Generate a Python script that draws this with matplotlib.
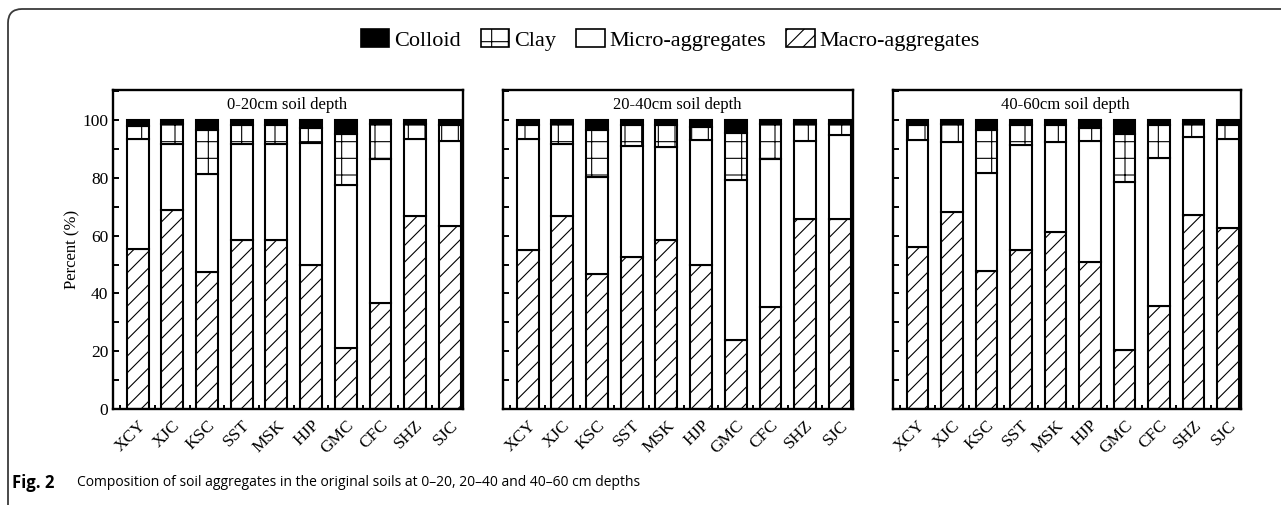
import matplotlib
matplotlib.use("Agg")
import matplotlib.pyplot as plt
from matplotlib.patches import Patch, PathPatch
from matplotlib.path import Path
from matplotlib.ticker import MultipleLocator, FixedLocator

# ---------------- data ----------------
soils = ["XCY", "XJC", "KSC", "SST", "MSK", "HJP", "GMC", "CFC", "SHZ", "SJC"]
depths = ["0-20cm soil depth", "20-40cm soil depth", "40-60cm soil depth"]

# Percent of each fraction (bottom to top): macro, micro, clay, colloid
macro_0_20 = [55.5, 69.0, 47.3, 58.5, 58.5, 50.0, 21.0, 36.8, 66.8, 63.3]
micro_0_20 = [37.8, 22.6, 34.0, 33.1, 33.1, 42.2, 56.5, 49.7, 26.5, 29.5]
clay_0_20 = [4.7, 6.9, 15.1, 6.6, 6.6, 5.2, 17.5, 12.0, 5.3, 5.4]
colloid_0_20 = [2.0, 1.5, 3.6, 1.8, 1.8, 2.6, 5.0, 1.5, 1.4, 1.8]

macro_20_40 = [55.0, 66.9, 46.6, 52.5, 58.5, 49.9, 24.0, 35.3, 65.7, 65.7]
micro_20_40 = [38.3, 24.9, 33.7, 38.6, 32.3, 43.1, 55.2, 51.2, 27.1, 29.1]
clay_20_40 = [4.9, 6.7, 16.3, 7.1, 7.4, 4.6, 16.3, 12.0, 5.7, 3.7]
colloid_20_40 = [1.8, 1.5, 3.4, 1.8, 1.8, 2.4, 4.5, 1.5, 1.5, 1.5]

macro_40_60 = [56.0, 68.3, 47.9, 55.2, 61.4, 50.8, 20.3, 35.6, 67.0, 62.5]
micro_40_60 = [37.0, 24.2, 33.7, 36.2, 31.0, 42.0, 58.1, 51.4, 27.0, 31.0]
clay_40_60 = [5.2, 6.0, 14.9, 6.8, 5.8, 4.6, 16.6, 11.2, 4.5, 4.8]
colloid_40_60 = [1.8, 1.5, 3.5, 1.8, 1.8, 2.6, 5.0, 1.8, 1.5, 1.7]

legend_labels = ["Colloid", "Clay", "Micro-aggregates", "Macro-aggregates"]
ylabel = "Percent (%)"
caption_bold = "Fig. 2"
caption_text = ("Composition of soil aggregates in the original soils at "
                "0\u201320, 20\u201340 and 40\u201360 cm depths")

panels = [
    (macro_0_20, micro_0_20, clay_0_20, colloid_0_20),
    (macro_20_40, micro_20_40, clay_20_40, colloid_20_40),
    (macro_40_60, micro_40_60, clay_40_60, colloid_40_60),
]

# ---------------- style ----------------
W, H = 1281, 505
plt.rcParams["font.family"] = ["Liberation Serif", "DejaVu Serif"]
plt.rcParams["hatch.linewidth"] = 0.8
plt.rcParams["hatch.color"] = "black"

fig = plt.figure(figsize=(W / 100, H / 100), dpi=100)

def px_axes(left, right, top, bottom):
    return fig.add_axes([left / W, 1 - bottom / H, (right - left) / W, (bottom - top) / H])

axes_px = [(113, 463, 90, 409), (503, 853, 90, 409), (893, 1241, 90, 409)]

bw = 0.63
edge_lw = 1.5
x = list(range(len(soils)))
for i, (ax_px, data, title) in enumerate(zip(axes_px, panels, depths)):
    ax = px_axes(*ax_px)
    macro, micro, clay, colloid = data
    b1 = list(macro)
    b2 = [m + mi for m, mi in zip(macro, micro)]
    b3 = [a + c for a, c in zip(b2, clay)]
    ax.bar(x, macro, bw, color="white", edgecolor="black", hatch="//", linewidth=edge_lw, zorder=2)
    ax.bar(x, micro, bw, bottom=b1, color="white", edgecolor="black", linewidth=edge_lw, zorder=2)
    ax.bar(x, clay, bw, bottom=b2, color="white", edgecolor="black", hatch="+", linewidth=edge_lw, zorder=2)
    ax.bar(x, colloid, bw, bottom=b3, color="black", edgecolor="black", linewidth=edge_lw, zorder=2)

    ax.set_xlim(-0.71, 9.38)
    ax.set_ylim(0, 110.4)
    ax.set_yticks([0, 20, 40, 60, 80, 100])
    ax.yaxis.set_minor_locator(MultipleLocator(10))
    ax.tick_params(axis="y", which="both", direction="in", length=4, width=1.4,
                   labelsize=12.5, right=False)
    ax.set_xticks(x)
    ax.set_xticklabels(soils, rotation=45, ha="right", rotation_mode="anchor", fontsize=12.5)
    ax.xaxis.set_minor_locator(FixedLocator([v - 0.5 for v in x]))
    ax.tick_params(axis="x", which="major", length=0, pad=6)
    ax.tick_params(axis="x", which="minor", direction="in", length=3, width=1.4)
    for s in ax.spines.values():
        s.set_linewidth(1.7)
    if i == 0:
        ax.set_ylabel(ylabel, fontsize=12, labelpad=1)
    else:
        ax.set_yticklabels([])
    ax.text(4.3, 105.2, title, ha="center", va="center", fontsize=12)

# legend
handles = [
    Patch(facecolor="black", edgecolor="black", linewidth=1.2),
    Patch(facecolor="white", edgecolor="black", hatch="+", linewidth=1.2),
    Patch(facecolor="white", edgecolor="black", linewidth=1.2),
    Patch(facecolor="white", edgecolor="black", hatch="//", linewidth=1.2),
]
fig.legend(handles, legend_labels, loc="center", bbox_to_anchor=(670 / W, 1 - 40 / H),
           ncol=4, frameon=False, fontsize=16, handlelength=1.3, handleheight=0.85,
           handletextpad=0.2, columnspacing=0.9, borderaxespad=0)

# caption
fig.text(12 / W, 1 - 483 / H, caption_bold, fontsize=12, fontweight="bold",
         family=["Open Sans", "DejaVu Sans"], ha="left", va="center")
fig.text(77 / W, 1 - 483 / H, caption_text, fontsize=10,
         family=["Open Sans", "DejaVu Sans"], ha="left", va="center")

# outer frame with rounded top-left corner
r = 14
x0, y0 = 8, 9
verts = [
    (x0 / W, -0.05),
    (x0 / W, 1 - (y0 + r) / H),
    (x0 / W, 1 - y0 / H),
    ((x0 + r) / W, 1 - y0 / H),
    (1.05, 1 - y0 / H),
]
codes = [Path.MOVETO, Path.LINETO, Path.CURVE3, Path.CURVE3, Path.LINETO]
fig.add_artist(PathPatch(Path(verts, codes), transform=fig.transFigure,
                         facecolor="none", edgecolor="#3a3a3a", linewidth=1.3))

fig.savefig("out.png", dpi=100)
